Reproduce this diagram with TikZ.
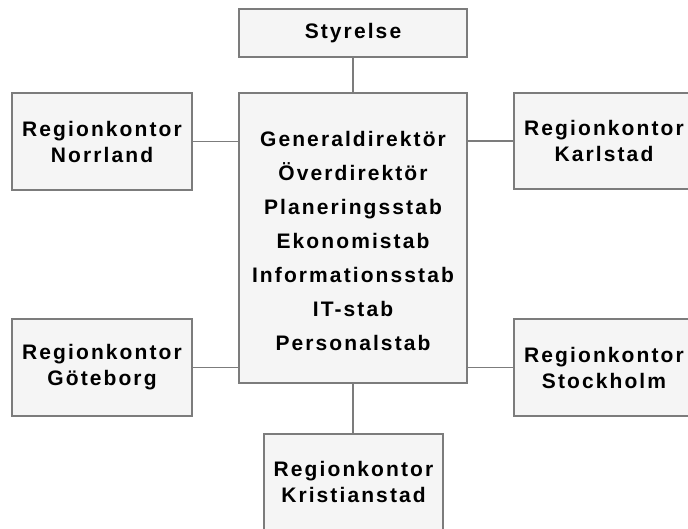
\documentclass[tikz,border=0pt]{standalone}
\usepackage{fontspec}
\newfontfamily\orgfont[LetterSpace=10]{Liberation Sans Bold}
\definecolor{linegray}{HTML}{7C7C7C}
\definecolor{boxfill}{HTML}{F5F5F5}
\begin{document}
\begin{tikzpicture}[x=1pt,y=-1pt,
  box/.style={draw=linegray, line width=1.6pt, fill=boxfill, inner sep=0pt, outer sep=0pt,
    align=center, text=black, font=\orgfont\fontsize{21}{26}\selectfont},
  bigtext/.style={inner sep=0pt, align=center, text=black, font=\orgfont\fontsize{21}{34}\selectfont},
  conn/.style={draw=linegray, line width=1.6pt}]
\useasboundingbox (0,0) rectangle (688,529);
\clip (0,0) rectangle (688,529);
\node[box, minimum width=228pt, minimum height=48pt] (sty) at (353,33) {Styrelse};
\node[box, minimum width=228pt, minimum height=290pt] (cen) at (353,238) {};
\node[bigtext] (centext) at ([yshift=-3pt]cen.center)
  {Generaldirektör\\Överdirektör\\Planeringsstab\\Ekonomistab\\Informationsstab\\IT-stab\\Personalstab};
\node[box, minimum width=180pt, minimum height=97pt] (norr) at (102,141.5) {Regionkontor\\Norrland};
\node[box, minimum width=180pt, minimum height=96pt] (karl) at (604,141) {Regionkontor\\Karlstad};
\node[box, minimum width=180pt, minimum height=97pt] (gbg) at (102,367.5) {Regionkontor\\Göteborg};
\node[box, minimum width=180pt, minimum height=97pt] (sthlm) at (604,367.5) {Regionkontor\\Stockholm};
\node[box, minimum width=179pt, minimum height=96pt] (kris) at (353.5,482) {Regionkontor\\Kristianstad};
\draw[conn] (sty.south) -- (cen.north);
\draw[conn] (norr.east) -- (norr.east -| cen.west);
\draw[conn] (karl.west) -- (karl.west -| cen.east);
\draw[conn] (gbg.east) -- (gbg.east -| cen.west);
\draw[conn] (sthlm.west) -- (sthlm.west -| cen.east);
\draw[conn] (cen.south) -- (cen.south |- kris.north);
\end{tikzpicture}
\end{document}
